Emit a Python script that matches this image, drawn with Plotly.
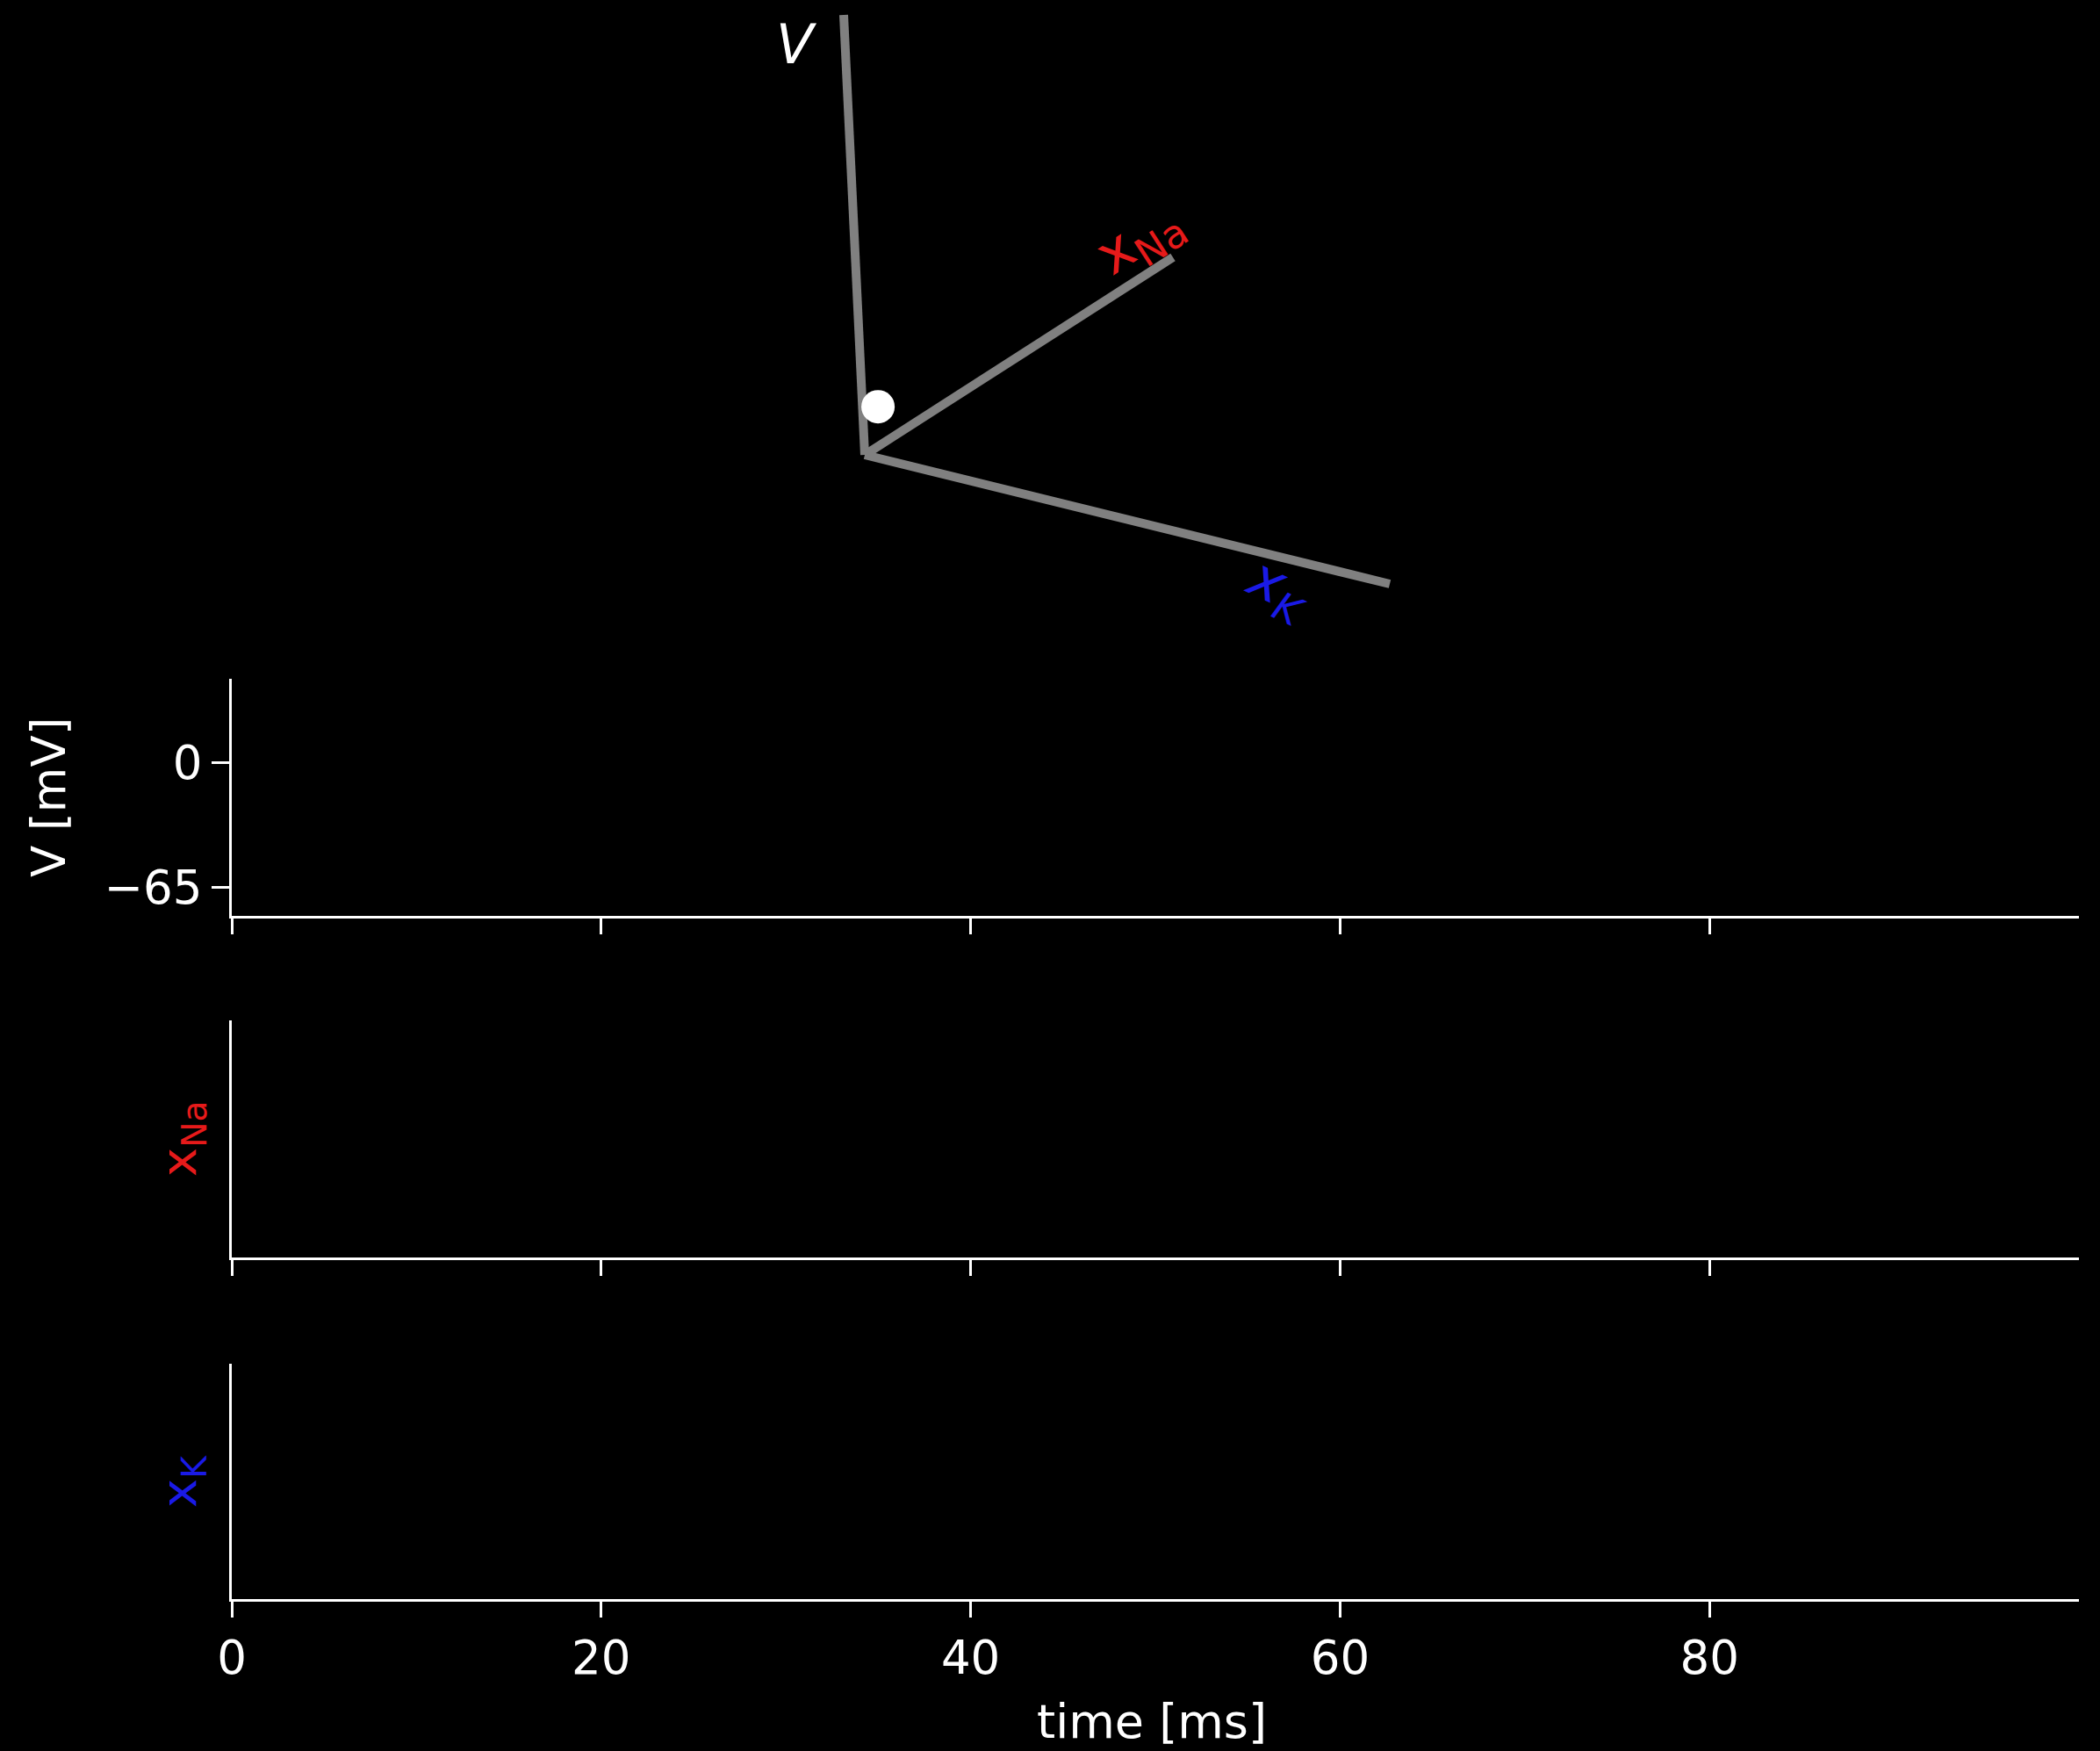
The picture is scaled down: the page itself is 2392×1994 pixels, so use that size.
import plotly.graph_objects as go

# ---------------- data ----------------
time_ms = []          # simulated time so far (empty at t = 0)
V_trace = []          # membrane potential [mV]
xNa_trace = []        # sodium gating variable
xK_trace = []         # potassium gating variable

time_ticks = [0, 20, 40, 60, 80]
time_range = [0, 100]
V_ticks = [0, -65]
V_tick_text = ["0", "\u221265"]
V_range = [-80, 43.5]

# 3-D state-space axes, projected onto the screen (direction of each axis)
state_axes = ["V", "xNa", "xK"]
axis_dir_x = [-24, 351, 598]
axis_dir_y = [501, 225, -147]
# current state as fraction along each axis
state_frac = [0.0875, 0.049, 0.0]

FONT = "DejaVu Sans"
W, H = 2392, 1994
RED, BLUE = "#e61a1a", "#1a1ae6"

fig = go.Figure()

# ---- bottom time-series panels ----
fig.add_trace(go.Scatter(x=time_ms, y=V_trace, mode="lines",
                         line=dict(color="white", width=3), xaxis="x", yaxis="y",
                         showlegend=False))
fig.add_trace(go.Scatter(x=time_ms, y=xNa_trace, mode="lines",
                         line=dict(color=RED, width=3), xaxis="x2", yaxis="y2",
                         showlegend=False))
fig.add_trace(go.Scatter(x=time_ms, y=xK_trace, mode="lines",
                         line=dict(color=BLUE, width=3), xaxis="x3", yaxis="y3",
                         showlegend=False))

# ---- top 3-D state-space sketch ----
lx, ly = [], []
for dx, dy in zip(axis_dir_x, axis_dir_y):
    lx += [0, dx, None]
    ly += [0, dy, None]
fig.add_trace(go.Scatter(x=lx, y=ly, mode="lines",
                         line=dict(color="#808080", width=10),
                         xaxis="x4", yaxis="y4", showlegend=False))
px = sum(f * d for f, d in zip(state_frac, axis_dir_x))
py = sum(f * d for f, d in zip(state_frac, axis_dir_y))
fig.add_trace(go.Scatter(x=[px], y=[py], mode="markers",
                         marker=dict(color="white", size=38, line=dict(width=0)),
                         xaxis="x4", yaxis="y4", showlegend=False))

# ---- layout ----
xdom = [264 / W, 2368 / W]
def ydom(top, bottom):
    return [1 - bottom / H, 1 - top / H]

TICK_SIZE = 53
common_x = dict(range=time_range, tickvals=time_ticks, showline=True,
                linecolor="white", linewidth=3, ticks="outside", ticklen=18,
                tickwidth=3, tickcolor="white", showgrid=False, zeroline=False,
                automargin=False,
                tickfont=dict(family=FONT, size=TICK_SIZE, color="white"), domain=xdom)
common_y = dict(showline=True, linecolor="white", linewidth=3, showgrid=False,
                zeroline=False, automargin=False,
                tickfont=dict(family=FONT, size=TICK_SIZE, color="white"))

fig.update_layout(
    width=W, height=H, autosize=False,
    margin=dict(l=0, r=0, t=0, b=0, pad=0),
    paper_bgcolor="black", plot_bgcolor="black",
    xaxis=dict(common_x, anchor="y", showticklabels=False),
    yaxis=dict(common_y, anchor="x", domain=ydom(773, 1043), range=V_range,
               tickvals=V_ticks, ticktext=V_tick_text, ticks="outside",
               ticklen=20, tickwidth=3, tickcolor="white"),
    xaxis2=dict(common_x, anchor="y2", showticklabels=False),
    yaxis2=dict(common_y, anchor="x2", domain=ydom(1162, 1432), range=[0, 1],
                showticklabels=False, ticks=""),
    xaxis3=dict(common_x, anchor="y3", showticklabels=True),
    yaxis3=dict(common_y, anchor="x3", domain=ydom(1553, 1821), range=[0, 1],
                showticklabels=False, ticks=""),
    xaxis4=dict(domain=[0, 1], range=[-985, W - 985], visible=False, anchor="y4",
                automargin=False),
    yaxis4=dict(domain=[0.64, 1], range=[-(0.36 * H - 518), 518], visible=False,
                anchor="x4", automargin=False),
)

ann = []
# axis titles
ann.append(dict(text="V [mV]", x=56 / W, y=1 - 908 / H, xref="paper", yref="paper",
                textangle=-90, showarrow=False, xanchor="center", yanchor="middle",
                font=dict(family=FONT, size=53, color="white")))
ann.append(dict(text="x<sub>Na</sub>", x=207 / W, y=1 - 1297 / H, xref="paper",
                yref="paper", textangle=-90, showarrow=False, xanchor="center",
                yanchor="middle", font=dict(family=FONT, size=56, color=RED)))
ann.append(dict(text="x<sub>K</sub>", x=207 / W, y=1 - 1687 / H, xref="paper",
                yref="paper", textangle=-90, showarrow=False, xanchor="center",
                yanchor="middle", font=dict(family=FONT, size=56, color=BLUE)))
ann.append(dict(text="time [ms]", x=1312 / W, y=1 - 1960 / H, xref="paper",
                yref="paper", showarrow=False, xanchor="center", yanchor="middle",
                font=dict(family=FONT, size=54, color="white")))

# state-space axis labels
ann.append(dict(text="<i>V</i>", x=axis_dir_x[0], y=axis_dir_y[0], xref="x4", yref="y4",
                xshift=-54, yshift=-33, showarrow=False, xanchor="center",
                yanchor="middle", font=dict(family=FONT, size=62, color="white")))
ann.append(dict(text="x<sub>Na</sub>", x=axis_dir_x[1], y=axis_dir_y[1], xref="x4",
                yref="y4", xshift=-38, yshift=20, textangle=-33, showarrow=False,
                xanchor="center", yanchor="middle",
                font=dict(family=FONT, size=64, color=RED)))
ann.append(dict(text="<i>x<sub>K</sub></i>", x=axis_dir_x[2], y=axis_dir_y[2], xref="x4",
                yref="y4", xshift=-127, yshift=-6, textangle=25, showarrow=False,
                xanchor="center", yanchor="middle",
                font=dict(family=FONT, size=64, color=BLUE)))
fig.update_layout(annotations=ann)

fig.write_html("out.html")
